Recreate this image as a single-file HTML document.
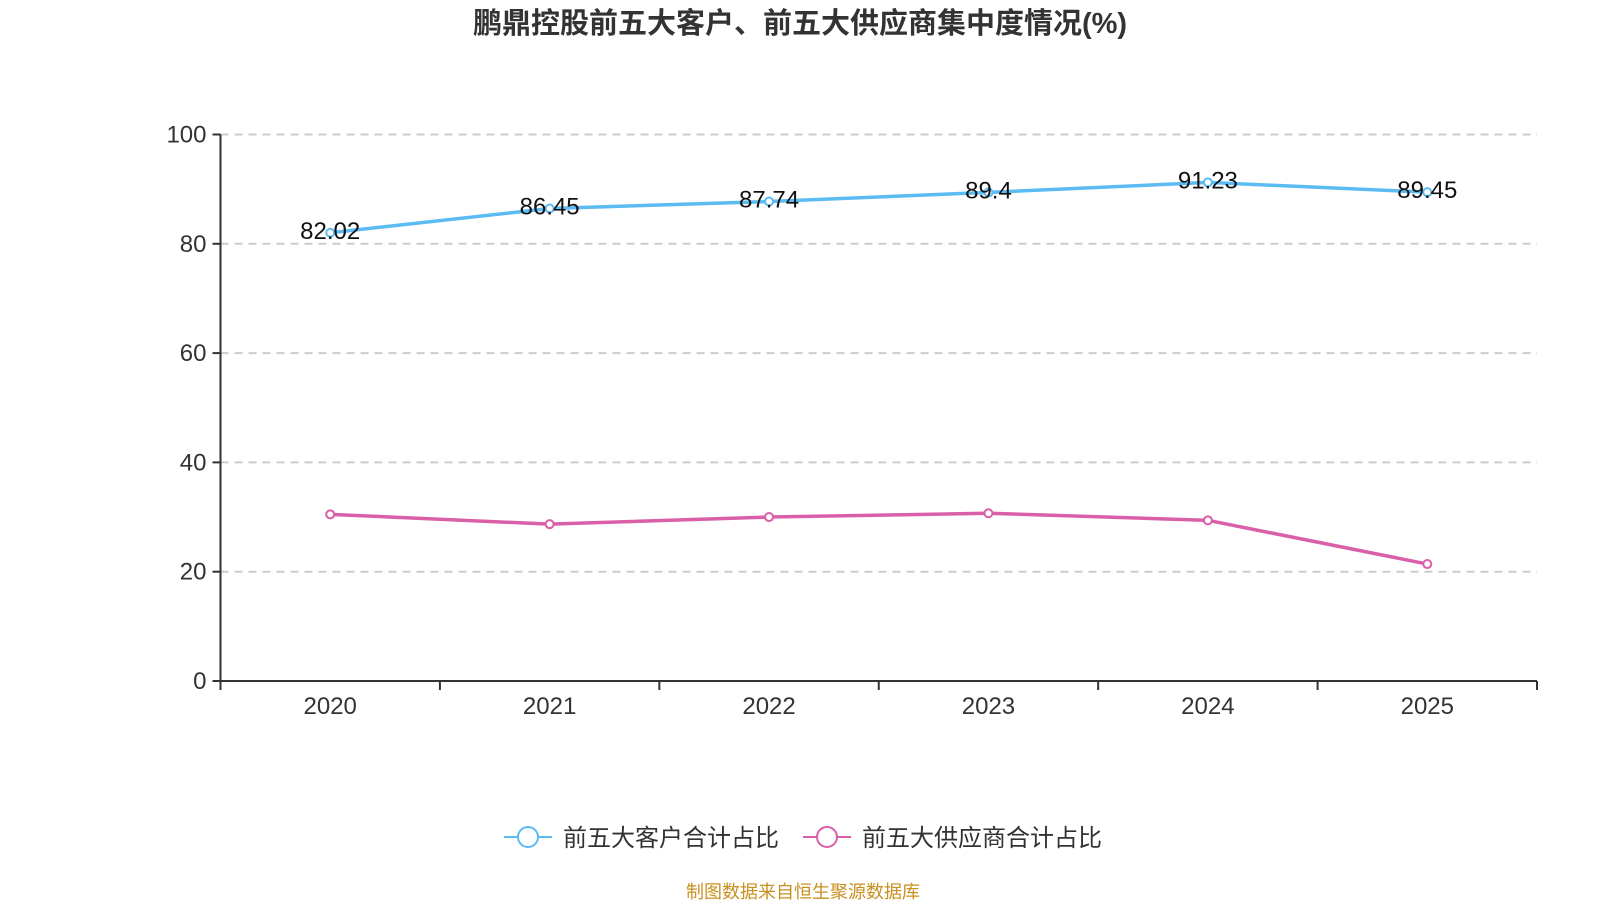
<!DOCTYPE html>
<html><head><meta charset="utf-8"><style>
body{margin:0;background:#fff;font-family:"Liberation Sans","Noto Sans CJK SC",sans-serif}
</style></head><body>
<svg width="1600" height="900" xmlns="http://www.w3.org/2000/svg" font-family="Liberation Sans, Noto Sans CJK SC, sans-serif">
<text x="800" y="33" text-anchor="middle" font-size="29" font-weight="bold" fill="#333">鹏鼎控股前五大客户、前五大供应商集中度情况(%)</text>
<g id="grid"></g><g id="axes"></g><g id="series"></g>
<g>
<g><line x1="504" y1="837" x2="552" y2="837" stroke="#5bbcf4" stroke-width="2"/><circle cx="528" cy="837" r="10" fill="#fff" stroke="#5bbcf4" stroke-width="2"/><text x="563" y="846" font-size="24" fill="#333">前五大客户合计占比</text></g>
<g><line x1="803" y1="837" x2="851" y2="837" stroke="#d95fa8" stroke-width="2"/><circle cx="827" cy="837" r="10" fill="#fff" stroke="#d95fa8" stroke-width="2"/><text x="862" y="846" font-size="24" fill="#333">前五大供应商合计占比</text></g>
</g>
<text x="803" y="898" text-anchor="middle" font-size="18" fill="#c8901e">制图数据来自恒生聚源数据库</text>
</svg>
<script>
const categories=["2020","2021","2022","2023","2024","2025"];
const customers=[82.02,86.45,87.74,89.4,91.23,89.45];
const suppliers=[30.5,28.7,30.0,30.7,29.4,21.4];
const yTicks=[0,20,40,60,80,100];
const NS="http://www.w3.org/2000/svg";
const L=220.5,R=1537,T=134.5,B=681;
const bw=(R-L)/categories.length;
const xS=i=>L+bw*(i+0.5);
const yS=v=>B-(v/100)*(B-T);
function mk(tag,attrs,parent,text){const e=document.createElementNS(NS,tag);for(const k in attrs)e.setAttribute(k,attrs[k]);if(text!==undefined)e.textContent=text;parent.appendChild(e);return e;}
const grid=document.getElementById('grid'),axes=document.getElementById('axes'),ser=document.getElementById('series');
yTicks.forEach(v=>{
 if(v>0){const g=mk('line',{x1:L,x2:R,y1:yS(v),y2:yS(v),stroke:'#ccc','stroke-width':2,'stroke-dasharray':'8,6'},grid);
 
 }
 mk('line',{x1:L-8,x2:L,y1:yS(v),y2:yS(v),stroke:'#333','stroke-width':2},axes);
 const t=mk('text',{x:L-14,y:yS(v)+8,'text-anchor':'end','font-size':24,fill:'#333'},axes,v);
 
 
});
const ya=mk('line',{x1:L,x2:L,y1:T,y2:B,stroke:'#333','stroke-width':2},axes);


const xa=mk('line',{x1:L,x2:R,y1:B,y2:B,stroke:'#333','stroke-width':2},axes);


for(let i=0;i<=categories.length;i++)mk('line',{x1:L+bw*i,x2:L+bw*i,y1:B,y2:B+9,stroke:'#333','stroke-width':2},axes);
categories.forEach((c,i)=>{const t=mk('text',{x:xS(i),y:B+33,'text-anchor':'middle','font-size':24,fill:'#333'},axes,c);
 
 });
function series(vals,color,name,labels){
 const p=mk('polyline',{points:vals.map((v,i)=>xS(i)+','+yS(v)).join(' '),fill:'none',stroke:color,'stroke-width':3.5},ser);
 
 
 vals.forEach((v,i)=>{const c=mk('circle',{cx:xS(i),cy:yS(v),r:4,fill:'#fff',stroke:color,'stroke-width':2},ser);
  
  
  if(labels){const t=mk('text',{x:xS(i),y:yS(v)+6,'text-anchor':'middle','font-size':24,fill:'#111'},ser,v);
  
  }
 });
}
series(customers,'#5bbcf4','customers',true);
series(suppliers,'#d95fa8','suppliers',false);
</script>
</body></html>
